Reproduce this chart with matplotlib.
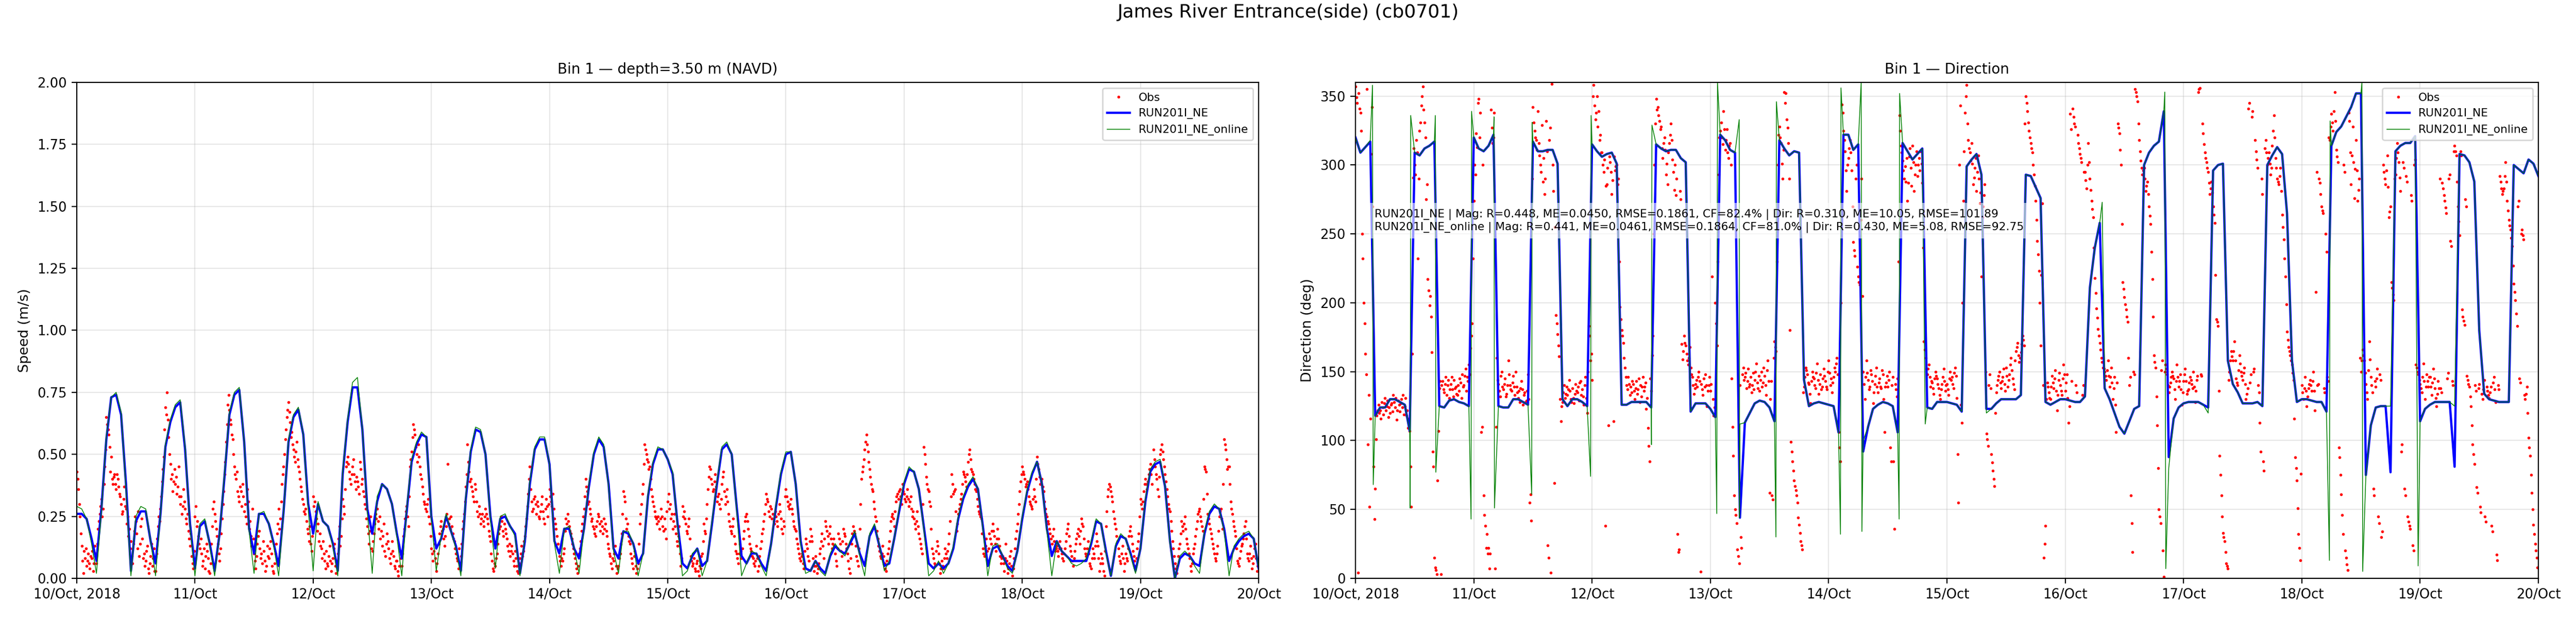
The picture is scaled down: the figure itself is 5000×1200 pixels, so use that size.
import numpy as np
import matplotlib
matplotlib.use("Agg")
from matplotlib import pyplot as plt

# station / run names
station = "James River Entrance(side) (cb0701)"
runs = ["RUN201I_NE", "RUN201I_NE_online"]

# hourly model output, hour 0 = 2018-10-10 00:00
run_spd = [
    0.26, 0.26, 0.24, 0.16, 0.07, 0.28, 0.56, 0.73, 0.74, 0.66,
    0.38, 0.03, 0.23, 0.27, 0.27, 0.15, 0.06, 0.26, 0.53, 0.63,
    0.69, 0.71, 0.52, 0.22, 0.04, 0.21, 0.23, 0.14, 0.03, 0.18,
    0.41, 0.66, 0.74, 0.76, 0.55, 0.20, 0.10, 0.26, 0.26, 0.22,
    0.14, 0.05, 0.27, 0.55, 0.65, 0.68, 0.58, 0.30, 0.18, 0.30,
    0.23, 0.21, 0.14, 0.03, 0.42, 0.63, 0.77, 0.77, 0.60, 0.28,
    0.18, 0.31, 0.38, 0.36, 0.30, 0.18, 0.08, 0.27, 0.47, 0.54,
    0.58, 0.57, 0.25, 0.12, 0.16, 0.25, 0.19, 0.13, 0.03, 0.32,
    0.51, 0.60, 0.59, 0.50, 0.25, 0.12, 0.24, 0.25, 0.21, 0.18,
    0.02, 0.15, 0.38, 0.52, 0.56, 0.56, 0.46, 0.15, 0.10, 0.20,
    0.20, 0.12, 0.08, 0.20, 0.37, 0.50, 0.56, 0.53, 0.38, 0.12,
    0.08, 0.19, 0.18, 0.14, 0.06, 0.10, 0.33, 0.46, 0.52, 0.52,
    0.48, 0.42, 0.22, 0.06, 0.04, 0.09, 0.12, 0.05, 0.07, 0.22,
    0.38, 0.52, 0.54, 0.50, 0.29, 0.09, 0.06, 0.10, 0.10, 0.06,
    0.03, 0.14, 0.29, 0.42, 0.50, 0.51, 0.38, 0.15, 0.04, 0.03,
    0.07, 0.04, 0.02, 0.09, 0.13, 0.11, 0.10, 0.14, 0.18, 0.10,
    0.05, 0.17, 0.21, 0.13, 0.05, 0.06, 0.16, 0.27, 0.38, 0.44,
    0.43, 0.36, 0.21, 0.06, 0.04, 0.06, 0.04, 0.06, 0.12, 0.24,
    0.32, 0.37, 0.40, 0.36, 0.21, 0.05, 0.12, 0.13, 0.09, 0.05,
    0.03, 0.11, 0.24, 0.35, 0.42, 0.47, 0.38, 0.20, 0.09, 0.15,
    0.11, 0.09, 0.07, 0.07, 0.07, 0.07, 0.14, 0.23, 0.22, 0.11,
    0.01, 0.13, 0.17, 0.16, 0.10, 0.03, 0.12, 0.31, 0.43, 0.46,
    0.47, 0.37, 0.15, 0.00, 0.08, 0.10, 0.09, 0.06, 0.05, 0.18,
    0.26, 0.29, 0.28, 0.20, 0.07, 0.12, 0.15, 0.17, 0.18, 0.16,
    0.04]

online_spd = [
    0.29, 0.28, 0.24, 0.14, 0.02, 0.27, 0.57, 0.73, 0.75, 0.67,
    0.36, 0.01, 0.25, 0.29, 0.28, 0.15, 0.01, 0.26, 0.54, 0.64,
    0.70, 0.72, 0.53, 0.21, 0.01, 0.22, 0.24, 0.13, 0.01, 0.18,
    0.42, 0.67, 0.75, 0.77, 0.55, 0.19, 0.02, 0.26, 0.27, 0.22,
    0.13, 0.01, 0.27, 0.56, 0.66, 0.69, 0.58, 0.28, 0.03, 0.31,
    0.23, 0.21, 0.13, 0.01, 0.43, 0.64, 0.79, 0.81, 0.60, 0.27,
    0.02, 0.33, 0.38, 0.36, 0.30, 0.17, 0.01, 0.28, 0.48, 0.55,
    0.59, 0.57, 0.24, 0.03, 0.17, 0.26, 0.19, 0.12, 0.01, 0.33,
    0.52, 0.61, 0.60, 0.50, 0.24, 0.04, 0.25, 0.26, 0.21, 0.17,
    0.01, 0.16, 0.39, 0.53, 0.57, 0.57, 0.46, 0.14, 0.02, 0.20,
    0.21, 0.12, 0.02, 0.20, 0.38, 0.51, 0.57, 0.54, 0.37, 0.11,
    0.02, 0.19, 0.19, 0.14, 0.01, 0.10, 0.34, 0.47, 0.53, 0.52,
    0.48, 0.43, 0.21, 0.01, 0.03, 0.10, 0.12, 0.01, 0.07, 0.23,
    0.39, 0.53, 0.55, 0.50, 0.28, 0.01, 0.06, 0.11, 0.10, 0.05,
    0.01, 0.14, 0.30, 0.43, 0.51, 0.51, 0.38, 0.14, 0.02, 0.03,
    0.07, 0.03, 0.01, 0.10, 0.14, 0.11, 0.09, 0.15, 0.19, 0.09,
    0.01, 0.18, 0.22, 0.13, 0.03, 0.07, 0.16, 0.28, 0.39, 0.45,
    0.43, 0.36, 0.20, 0.01, 0.03, 0.07, 0.02, 0.06, 0.13, 0.25,
    0.33, 0.38, 0.41, 0.36, 0.20, 0.01, 0.13, 0.14, 0.09, 0.04,
    0.02, 0.11, 0.25, 0.36, 0.43, 0.47, 0.38, 0.19, 0.01, 0.15,
    0.11, 0.09, 0.06, 0.05, 0.06, 0.08, 0.15, 0.24, 0.22, 0.10,
    0.01, 0.14, 0.18, 0.16, 0.09, 0.02, 0.12, 0.32, 0.44, 0.47,
    0.48, 0.37, 0.14, 0.00, 0.09, 0.11, 0.09, 0.05, 0.02, 0.19,
    0.27, 0.30, 0.28, 0.19, 0.01, 0.13, 0.16, 0.18, 0.19, 0.16,
    0.04]

run_dir = [
    320, 309, 313, 317, 118, 124, 124, 130, 130, 128,
    126, 107, 309, 307, 312, 314, 317, 125, 124, 129,
    130, 128, 127, 125, 320, 312, 310, 314, 322, 125,
    124, 124, 130, 130, 128, 126, 317, 310, 310, 311,
    311, 301, 130, 125, 130, 130, 128, 125, 315, 310,
    306, 308, 309, 301, 126, 126, 128, 128, 128, 128,
    124, 315, 312, 310, 311, 311, 305, 302, 121, 127,
    127, 127, 123, 117, 322, 318, 311, 309, 44, 113,
    120, 127, 129, 128, 124, 114, 318, 312, 307, 310,
    309, 144, 125, 127, 128, 127, 126, 125, 106, 322,
    322, 311, 315, 92, 110, 123, 126, 128, 127, 125,
    106, 316, 310, 304, 308, 312, 124, 123, 128, 128,
    128, 127, 126, 121, 299, 304, 308, 293, 123, 123,
    127, 130, 130, 130, 130, 133, 293, 292, 284, 276,
    128, 126, 128, 130, 130, 129, 128, 128, 132, 211,
    240, 258, 138, 130, 120, 110, 105, 114, 123, 125,
    300, 309, 314, 317, 339, 88, 116, 124, 127, 128,
    128, 128, 126, 124, 296, 300, 301, 158, 141, 135,
    127, 127, 127, 128, 125, 300, 307, 313, 308, 265,
    158, 128, 130, 130, 129, 128, 128, 121, 314, 324,
    328, 335, 342, 352, 352, 75, 111, 124, 125, 125,
    77, 310, 314, 316, 316, 321, 114, 123, 126, 128,
    128, 128, 128, 81, 308, 307, 302, 288, 180, 134,
    130, 129, 128, 128, 128, 300, 297, 294, 304, 301,
    292]

online_dir = [
    320, 309, 313, 318, 118, 124, 124, 130, 130, 128,
    126, 107, 309, 307, 312, 314, 317, 125, 124, 129,
    130, 128, 127, 125, 320, 312, 310, 314, 322, 125,
    124, 124, 130, 130, 128, 126, 317, 310, 310, 311,
    311, 301, 130, 125, 130, 130, 128, 125, 315, 310,
    306, 308, 309, 301, 126, 126, 128, 128, 128, 128,
    124, 315, 312, 310, 311, 311, 305, 302, 121, 127,
    127, 127, 123, 117, 322, 318, 311, 309, 112, 113,
    120, 127, 129, 128, 124, 114, 318, 312, 307, 310,
    309, 144, 125, 127, 128, 127, 126, 125, 106, 322,
    322, 311, 315, 100, 110, 123, 126, 128, 127, 125,
    106, 316, 310, 304, 308, 312, 124, 123, 128, 128,
    128, 127, 126, 121, 299, 304, 308, 293, 120, 123,
    127, 130, 130, 130, 130, 133, 293, 292, 284, 276,
    128, 126, 128, 130, 130, 129, 128, 128, 132, 211,
    240, 258, 138, 130, 120, 110, 105, 114, 123, 125,
    300, 309, 314, 317, 339, 80, 116, 124, 127, 128,
    128, 128, 126, 120, 296, 300, 301, 158, 141, 135,
    127, 127, 127, 128, 125, 300, 307, 313, 308, 265,
    158, 128, 130, 130, 129, 128, 128, 121, 314, 324,
    328, 335, 342, 352, 352, 75, 111, 124, 125, 125,
    125, 310, 314, 316, 316, 321, 115, 123, 126, 128,
    128, 128, 128, 125, 308, 307, 302, 288, 180, 134,
    130, 129, 128, 128, 128, 300, 297, 294, 304, 301,
    292]

# short over/undershoots of the online run at the flow reversals
online_spike_hours = [3.45, 3.6, 11.1, 11.2, 16.2, 16.3, 23.45, 23.55, 28.1, 28.2,
                      35.75, 35.85, 47.7, 47.8, 60.05, 60.15, 73.3, 73.45, 77.85, 77.92,
                      85.3, 85.4, 98.4, 98.5, 102.6, 102.75, 110.3, 110.4, 115.6, 151.5,
                      164.2, 164.4, 197.6, 197.75, 204.2, 204.35, 215.6]
online_spike_dir = [358, 68, 51, 336, 336, 77, 43, 339, 335, 51,
                    61, 331, 74, 336, 97, 329, 47, 360, 333, 44,
                    30, 346, 32, 356, 360, 34, 43, 352, 112, 273,
                    353, 7, 13, 332, 360, 5, 9]

# ADCP bin 1 observations, every 10 min from 2018-10-10 00:00 (2 h per row)
obs_spd = [
    0.43, 0.40, 0.36, 0.30, 0.25, 0.18, 0.13, 0.07, 0.02, 0.11, 0.08, 0.12,
    0.05, 0.07, 0.10, 0.06, 0.04, 0.09, 0.08, 0.11, 0.03, 0.06, 0.13, 0.10,
    0.06, 0.14, 0.20, 0.23, 0.26, 0.29, 0.32, 0.25, 0.28, 0.38, 0.45, 0.52,
    0.65, 0.62, 0.60, 0.58, 0.53, 0.43, 0.49, 0.40, 0.38, 0.41, 0.42, 0.38,
    0.36, 0.42, 0.40, 0.37, 0.34, 0.33, 0.30, 0.26, 0.27, 0.32, 0.37, 0.29,
    0.28, 0.22, 0.25, 0.17, 0.20, 0.12, 0.15, 0.09, 0.06, 0.14, 0.19, 0.25,
    0.23, 0.18, 0.12, 0.27, 0.09, 0.14, 0.21, 0.24, 0.16, 0.08, 0.10, 0.05,
    0.07, 0.11, 0.13, 0.04, 0.02, 0.06, 0.09, 0.14, 0.05, 0.08, 0.12, 0.03,
    0.03, 0.10, 0.16, 0.21, 0.25, 0.23, 0.28, 0.33, 0.39, 0.44, 0.49, 0.60,
    0.69, 0.66, 0.75, 0.64, 0.57, 0.50, 0.46, 0.40, 0.42, 0.35, 0.39, 0.44,
    0.38, 0.41, 0.34, 0.37, 0.45, 0.33, 0.30, 0.33, 0.26, 0.29, 0.36, 0.31,
    0.28, 0.24, 0.22, 0.26, 0.19, 0.16, 0.13, 0.18, 0.09, 0.06, 0.04, 0.11,
    0.25, 0.29, 0.21, 0.23, 0.17, 0.14, 0.12, 0.16, 0.10, 0.05, 0.07, 0.12,
    0.04, 0.09, 0.14, 0.11, 0.08, 0.03, 0.02, 0.06, 0.14, 0.21, 0.28, 0.31,
    0.26, 0.23, 0.20, 0.17, 0.14, 0.10, 0.07, 0.12, 0.18, 0.24, 0.30, 0.35,
    0.42, 0.47, 0.55, 0.62, 0.70, 0.74, 0.68, 0.64, 0.62, 0.58, 0.56, 0.50,
    0.45, 0.42, 0.40, 0.43, 0.35, 0.33, 0.31, 0.37, 0.35, 0.29, 0.38, 0.33,
    0.27, 0.30, 0.25, 0.22, 0.36, 0.31, 0.20, 0.23, 0.17, 0.13, 0.28, 0.16,
    0.10, 0.07, 0.04, 0.09, 0.14, 0.17, 0.19, 0.12, 0.08, 0.10, 0.06, 0.15,
    0.11, 0.07, 0.03, 0.05, 0.13, 0.09, 0.08, 0.12, 0.15, 0.10, 0.05, 0.03,
    0.02, 0.06, 0.10, 0.14, 0.18, 0.22, 0.28, 0.20, 0.24, 0.31, 0.38, 0.42,
    0.45, 0.50, 0.56, 0.60, 0.65, 0.68, 0.71, 0.67, 0.63, 0.57, 0.59, 0.54,
    0.52, 0.49, 0.47, 0.51, 0.55, 0.48, 0.45, 0.43, 0.40, 0.37, 0.35, 0.32,
    0.30, 0.27, 0.26, 0.28, 0.23, 0.20, 0.18, 0.15, 0.21, 0.14, 0.11, 0.17,
    0.33, 0.29, 0.31, 0.27, 0.24, 0.19, 0.22, 0.15, 0.18, 0.13, 0.12, 0.08,
    0.15, 0.10, 0.07, 0.04, 0.11, 0.06, 0.05, 0.09, 0.13, 0.07, 0.03, 0.06,
    0.08, 0.12, 0.14, 0.05, 0.02, 0.07, 0.10, 0.16, 0.21, 0.13, 0.17, 0.24,
    0.32, 0.29, 0.26, 0.36, 0.45, 0.47, 0.49, 0.46, 0.43, 0.40, 0.38, 0.42,
    0.45, 0.48, 0.42, 0.39, 0.36, 0.41, 0.39, 0.37, 0.34, 0.47, 0.44, 0.38,
    0.40, 0.35, 0.33, 0.30, 0.28, 0.24, 0.21, 0.18, 0.14, 0.19, 0.25, 0.12,
    0.11, 0.15, 0.18, 0.22, 0.26, 0.24, 0.28, 0.23, 0.20, 0.25, 0.16, 0.19,
    0.13, 0.17, 0.22, 0.11, 0.09, 0.14, 0.18, 0.15, 0.12, 0.08, 0.06, 0.10,
    0.15, 0.11, 0.09, 0.05, 0.04, 0.07, 0.07, 0.03, 0.01, 0.05, 0.11, 0.08,
    0.05, 0.10, 0.17, 0.20, 0.24, 0.27, 0.29, 0.25, 0.21, 0.33, 0.45, 0.48,
    0.51, 0.57, 0.62, 0.60, 0.58, 0.53, 0.50, 0.47, 0.54, 0.49, 0.45, 0.42,
    0.40, 0.37, 0.34, 0.31, 0.30, 0.28, 0.27, 0.30, 0.32, 0.25, 0.22, 0.17,
    0.12, 0.10, 0.07, 0.11, 0.14, 0.08, 0.03, 0.06, 0.10, 0.14, 0.18, 0.21,
    0.23, 0.19, 0.20, 0.16, 0.13, 0.17, 0.21, 0.26, 0.46, 0.22, 0.24, 0.20,
    0.25, 0.21, 0.18, 0.16, 0.15, 0.12, 0.10, 0.08, 0.07, 0.04, 0.12, 0.06,
    0.09, 0.14, 0.20, 0.23, 0.26, 0.31, 0.37, 0.42, 0.54, 0.47, 0.43, 0.39,
    0.40, 0.37, 0.35, 0.33, 0.31, 0.38, 0.36, 0.31, 0.27, 0.25, 0.29, 0.26,
    0.22, 0.24, 0.26, 0.23, 0.21, 0.25, 0.28, 0.26, 0.24, 0.22, 0.19, 0.17,
    0.15, 0.10, 0.07, 0.04, 0.03, 0.06, 0.05, 0.08, 0.10, 0.14, 0.18, 0.20,
    0.21, 0.25, 0.23, 0.19, 0.17, 0.22, 0.20, 0.18, 0.16, 0.13, 0.11, 0.14,
    0.09, 0.11, 0.13, 0.10, 0.07, 0.05, 0.11, 0.08, 0.05, 0.03, 0.02, 0.06,
    0.08, 0.10, 0.13, 0.09, 0.11, 0.15, 0.17, 0.21, 0.24, 0.29, 0.34, 0.40,
    0.45, 0.36, 0.31, 0.27, 0.28, 0.32, 0.33, 0.30, 0.26, 0.31, 0.29, 0.25,
    0.24, 0.27, 0.30, 0.33, 0.27, 0.24, 0.22, 0.28, 0.32, 0.29, 0.25, 0.30,
    0.36, 0.33, 0.31, 0.29, 0.34, 0.28, 0.24, 0.22, 0.20, 0.17, 0.14, 0.11,
    0.09, 0.07, 0.05, 0.08, 0.07, 0.10, 0.12, 0.19, 0.24, 0.22, 0.26, 0.23,
    0.21, 0.19, 0.18, 0.16, 0.14, 0.12, 0.10, 0.08, 0.06, 0.04, 0.02, 0.05,
    0.10, 0.12, 0.15, 0.19, 0.22, 0.25, 0.28, 0.33, 0.40, 0.37, 0.35, 0.30,
    0.31, 0.28, 0.26, 0.23, 0.24, 0.21, 0.20, 0.18, 0.17, 0.21, 0.23, 0.26,
    0.25, 0.22, 0.19, 0.23, 0.21, 0.18, 0.24, 0.20, 0.22, 0.19, 0.17, 0.14,
    0.12, 0.10, 0.09, 0.06, 0.04, 0.08, 0.07, 0.10, 0.13, 0.05, 0.02, 0.04,
    0.05, 0.08, 0.10, 0.14, 0.18, 0.26, 0.35, 0.33, 0.31, 0.24, 0.20, 0.22,
    0.17, 0.15, 0.14, 0.10, 0.08, 0.06, 0.04, 0.09, 0.11, 0.05, 0.02, 0.04,
    0.06, 0.14, 0.22, 0.26, 0.30, 0.34, 0.38, 0.46, 0.54, 0.52, 0.50, 0.48,
    0.47, 0.44, 0.45, 0.40, 0.36, 0.33, 0.31, 0.29, 0.27, 0.25, 0.24, 0.22,
    0.25, 0.23, 0.20, 0.24, 0.28, 0.25, 0.21, 0.19, 0.24, 0.20, 0.16, 0.27,
    0.31, 0.34, 0.28, 0.30, 0.24, 0.26, 0.20, 0.23, 0.26, 0.21, 0.18, 0.15,
    0.13, 0.17, 0.21, 0.10, 0.05, 0.08, 0.29, 0.25, 0.27, 0.24, 0.22, 0.19,
    0.18, 0.21, 0.24, 0.16, 0.09, 0.07, 0.05, 0.06, 0.08, 0.04, 0.03, 0.06,
    0.07, 0.03, 0.01, 0.05, 0.04, 0.09, 0.10, 0.15, 0.22, 0.19, 0.18, 0.24,
    0.30, 0.36, 0.41, 0.45, 0.44, 0.40, 0.38, 0.35, 0.36, 0.39, 0.42, 0.37,
    0.31, 0.33, 0.34, 0.30, 0.28, 0.32, 0.38, 0.41, 0.43, 0.35, 0.30, 0.33,
    0.36, 0.31, 0.26, 0.23, 0.21, 0.19, 0.18, 0.21, 0.24, 0.17, 0.14, 0.11,
    0.10, 0.08, 0.06, 0.10, 0.14, 0.11, 0.08, 0.12, 0.16, 0.19, 0.23, 0.25,
    0.26, 0.23, 0.20, 0.17, 0.14, 0.12, 0.11, 0.09, 0.08, 0.06, 0.05, 0.07,
    0.13, 0.08, 0.03, 0.05, 0.09, 0.12, 0.15, 0.18, 0.20, 0.23, 0.26, 0.30,
    0.34, 0.32, 0.31, 0.27, 0.25, 0.29, 0.28, 0.24, 0.26, 0.23, 0.22, 0.27,
    0.25, 0.23, 0.21, 0.26, 0.30, 0.27, 0.24, 0.20, 0.18, 0.23, 0.21, 0.33,
    0.36, 0.33, 0.31, 0.29, 0.28, 0.30, 0.32, 0.28, 0.26, 0.23, 0.21, 0.20,
    0.19, 0.16, 0.14, 0.12, 0.10, 0.08, 0.07, 0.09, 0.10, 0.06, 0.04, 0.11,
    0.16, 0.14, 0.12, 0.09, 0.07, 0.15, 0.20, 0.17, 0.15, 0.08, 0.03, 0.05,
    0.09, 0.05, 0.02, 0.04, 0.06, 0.10, 0.12, 0.15, 0.18, 0.13, 0.08, 0.16,
    0.23, 0.21, 0.19, 0.17, 0.14, 0.18, 0.21, 0.16, 0.12, 0.14, 0.16, 0.13,
    0.10, 0.07, 0.05, 0.12, 0.18, 0.16, 0.14, 0.11, 0.09, 0.15, 0.20, 0.18,
    0.17, 0.14, 0.12, 0.10, 0.07, 0.04, 0.02, 0.08, 0.14, 0.18, 0.21, 0.19,
    0.18, 0.13, 0.09, 0.07, 0.05, 0.12, 0.20, 0.30, 0.40, 0.43, 0.45, 0.48,
    0.52, 0.55, 0.58, 0.54, 0.51, 0.47, 0.44, 0.41, 0.38, 0.36, 0.35, 0.31,
    0.28, 0.25, 0.23, 0.19, 0.16, 0.13, 0.11, 0.09, 0.08, 0.10, 0.13, 0.09,
    0.06, 0.04, 0.03, 0.07, 0.10, 0.12, 0.15, 0.19, 0.23, 0.25, 0.26, 0.24,
    0.21, 0.27, 0.31, 0.33, 0.34, 0.32, 0.35, 0.36, 0.33, 0.30, 0.38, 0.35,
    0.34, 0.32, 0.31, 0.33, 0.36, 0.32, 0.29, 0.31, 0.33, 0.28, 0.25, 0.27,
    0.24, 0.22, 0.20, 0.23, 0.27, 0.21, 0.18, 0.16, 0.14, 0.12, 0.10, 0.30,
    0.53, 0.50, 0.46, 0.41, 0.38, 0.36, 0.35, 0.31, 0.29, 0.20, 0.12, 0.10,
    0.08, 0.06, 0.05, 0.11, 0.15, 0.13, 0.10, 0.06, 0.02, 0.04, 0.07, 0.05,
    0.04, 0.08, 0.12, 0.10, 0.08, 0.11, 0.14, 0.18, 0.23, 0.33, 0.42, 0.38,
    0.34, 0.35, 0.36, 0.27, 0.19, 0.22, 0.26, 0.28, 0.30, 0.32, 0.34, 0.38,
    0.43, 0.42, 0.41, 0.39, 0.37, 0.42, 0.47, 0.50, 0.52, 0.48, 0.44, 0.43,
    0.42, 0.40, 0.38, 0.36, 0.35, 0.32, 0.29, 0.27, 0.26, 0.25, 0.24, 0.18,
    0.12, 0.10, 0.09, 0.13, 0.16, 0.11, 0.07, 0.12, 0.18, 0.16, 0.14, 0.19,
    0.22, 0.19, 0.17, 0.14, 0.11, 0.16, 0.20, 0.16, 0.13, 0.09, 0.06, 0.08,
    0.09, 0.06, 0.03, 0.08, 0.14, 0.07, 0.02, 0.04, 0.06, 0.09, 0.11, 0.05,
    0.01, 0.04, 0.08, 0.12, 0.16, 0.19, 0.22, 0.26, 0.30, 0.35, 0.39, 0.42,
    0.45, 0.43, 0.42, 0.40, 0.37, 0.38, 0.39, 0.36, 0.33, 0.31, 0.30, 0.29,
    0.28, 0.32, 0.36, 0.33, 0.31, 0.40, 0.49, 0.46, 0.44, 0.41, 0.38, 0.39,
    0.40, 0.37, 0.35, 0.31, 0.28, 0.26, 0.25, 0.23, 0.22, 0.20, 0.18, 0.16,
    0.14, 0.17, 0.20, 0.15, 0.11, 0.12, 0.13, 0.11, 0.09, 0.12, 0.15, 0.12,
    0.10, 0.08, 0.07, 0.10, 0.12, 0.15, 0.18, 0.20, 0.22, 0.17, 0.13, 0.11,
    0.09, 0.07, 0.05, 0.08, 0.11, 0.14, 0.16, 0.18, 0.20, 0.17, 0.14, 0.19,
    0.24, 0.22, 0.21, 0.16, 0.12, 0.10, 0.09, 0.12, 0.15, 0.10, 0.06, 0.05,
    0.04, 0.08, 0.12, 0.10, 0.08, 0.13, 0.18, 0.15, 0.13, 0.08, 0.03, 0.06,
    0.10, 0.08, 0.06, 0.03, 0.01, 0.11, 0.21, 0.27, 0.33, 0.36, 0.38, 0.37,
    0.35, 0.33, 0.31, 0.27, 0.24, 0.22, 0.20, 0.17, 0.15, 0.12, 0.09, 0.07,
    0.06, 0.10, 0.13, 0.08, 0.03, 0.06, 0.10, 0.08, 0.07, 0.12, 0.17, 0.19,
    0.21, 0.17, 0.14, 0.11, 0.09, 0.07, 0.05, 0.08, 0.12, 0.15, 0.18, 0.25,
    0.32, 0.30, 0.28, 0.31, 0.35, 0.38, 0.40, 0.38, 0.36, 0.39, 0.42, 0.44,
    0.46, 0.42, 0.38, 0.45, 0.52, 0.48, 0.45, 0.42, 0.40, 0.36, 0.33, 0.41,
    0.50, 0.52, 0.54, 0.51, 0.48, 0.45, 0.42, 0.39, 0.36, 0.33, 0.30, 0.28,
    0.27, 0.23, 0.19, 0.15, 0.12, 0.09, 0.06, 0.04, 0.02, 0.05, 0.09, 0.12,
    0.14, 0.18, 0.23, 0.21, 0.19, 0.22, 0.25, 0.20, 0.16, 0.14, 0.12, 0.10,
    0.08, 0.05, 0.03, 0.06, 0.10, 0.12, 0.14, 0.17, 0.20, 0.23, 0.26, 0.27,
    0.28, 0.25, 0.23, 0.21, 0.19, 0.32, 0.45, 0.44, 0.43, 0.34, 0.26, 0.24,
    0.22, 0.20, 0.18, 0.16, 0.14, 0.12, 0.10, 0.08, 0.07, 0.10, 0.13, 0.19,
    0.25, 0.27, 0.28, 0.24, 0.20, 0.38, 0.56, 0.54, 0.52, 0.48, 0.44, 0.45,
    0.45, 0.38, 0.31, 0.28, 0.26, 0.23, 0.21, 0.19, 0.17, 0.12, 0.07, 0.06,
    0.05, 0.08, 0.11, 0.13, 0.14, 0.16, 0.18, 0.21, 0.23, 0.16, 0.10, 0.08,
    0.07, 0.10, 0.13, 0.08, 0.04, 0.06, 0.09, 0.12, 0.14, 0.08, 0.03, 0.05]

obs_dir = [
    357, 349, 345, 4, 352, 341, 338, 325, 250, 232, 200, 185,
    163, 148, 355, 97, 133, 52, 116, 308, 342, 270, 81, 43,
    65, 101, 118, 122, 126, 120, 122, 116, 128, 124, 119, 127,
    131, 122, 125, 129, 117, 124, 120, 126, 127, 121, 133, 128,
    124, 131, 115, 122, 129, 126, 121, 127, 130, 124, 133, 119,
    125, 131, 118, 122, 109, 116, 107, 81, 52, 163, 291, 312,
    300, 293, 318, 309, 232, 290, 325, 331, 343, 350, 357, 340,
    331, 320, 275, 286, 217, 209, 198, 205, 190, 164, 92, 81,
    15, 8, 6, 3, 71, 107, 138, 143, 3, 140, 143, 137,
    135, 141, 146, 133, 140, 144, 131, 137, 141, 146, 137, 132,
    144, 138, 139, 134, 133, 140, 136, 145, 142, 131, 148, 139,
    140, 147, 152, 136, 146, 143, 155, 148, 167, 176, 185, 232,
    274, 300, 293, 323, 313, 345, 348, 320, 338, 106, 110, 300,
    60, 46, 38, 22, 32, 18, 22, 7, 18, 340, 327, 316,
    320, 338, 7, 110, 160, 144, 141, 136, 132, 147, 150, 139,
    137, 141, 145, 132, 134, 140, 158, 148, 140, 137, 136, 142,
    147, 139, 133, 150, 139, 135, 131, 136, 128, 138, 143, 137,
    126, 133, 135, 128, 129, 136, 148, 130, 55, 61, 42, 290,
    342, 331, 325, 320, 318, 311, 339, 316, 307, 300, 295, 329,
    288, 305, 279, 290, 332, 310, 24, 15, 318, 327, 4, 359,
    300, 281, 69, 255, 191, 185, 177, 169, 161, 130, 114, 125,
    128, 135, 140, 131, 134, 139, 133, 137, 144, 136, 130, 128,
    138, 131, 127, 134, 141, 136, 135, 139, 129, 142, 143, 133,
    137, 132, 126, 140, 146, 131, 120, 150, 183, 176, 158, 163,
    144, 350, 358, 343, 333, 338, 350, 328, 339, 318, 322, 309,
    309, 300, 295, 304, 38, 285, 286, 298, 111, 306, 302, 295,
    279, 289, 114, 306, 296, 299, 300, 286, 290, 230, 197, 188,
    180, 176, 171, 160, 153, 146, 140, 137, 146, 141, 133, 139,
    135, 143, 141, 136, 130, 138, 143, 134, 137, 145, 128, 140,
    132, 139, 146, 136, 139, 142, 123, 131, 109, 96, 85, 145,
    136, 162, 176, 250, 300, 330, 348, 340, 342, 336, 332, 326,
    328, 312, 305, 316, 320, 311, 293, 301, 286, 309, 316, 322,
    330, 318, 304, 295, 282, 300, 278, 290, 32, 19, 21, 281,
    275, 170, 159, 165, 176, 171, 169, 163, 158, 155, 160, 168,
    153, 148, 146, 140, 134, 138, 141, 144, 139, 146, 150, 143,
    5, 141, 137, 133, 145, 139, 148, 140, 125, 136, 140, 146,
    136, 141, 219, 130, 118, 124, 200, 185, 169, 230, 293, 320,
    325, 331, 320, 315, 339, 326, 311, 318, 326, 309, 305, 314,
    316, 300, 145, 110, 89, 60, 50, 46, 40, 21, 16, 11,
    140, 30, 22, 148, 153, 144, 146, 149, 138, 143, 152, 139,
    141, 146, 135, 140, 149, 137, 144, 150, 156, 142, 138, 147,
    136, 144, 150, 139, 142, 153, 147, 140, 133, 151, 158, 143,
    62, 130, 143, 60, 57, 160, 172, 168, 165, 230, 300, 322,
    328, 320, 316, 301, 290, 311, 353, 345, 352, 333, 327, 316,
    290, 180, 99, 92, 85, 78, 71, 67, 64, 60, 55, 44,
    39, 33, 27, 24, 21, 135, 139, 146, 153, 151, 148, 142,
    141, 134, 127, 143, 150, 146, 145, 140, 138, 149, 156, 144,
    134, 141, 148, 137, 139, 145, 152, 147, 143, 139, 137, 150,
    158, 149, 140, 145, 135, 142, 146, 153, 150, 156, 160, 148,
    106, 95, 85, 200, 344, 338, 325, 318, 310, 296, 281, 300,
    305, 312, 318, 309, 296, 270, 244, 238, 234, 290, 300, 226,
    219, 215, 213, 260, 290, 205, 150, 141, 130, 146, 158, 149,
    144, 137, 139, 151, 148, 143, 127, 135, 141, 147, 153, 139,
    135, 142, 145, 139, 138, 151, 148, 130, 106, 139, 142, 147,
    139, 144, 150, 95, 85, 140, 146, 85, 36, 141, 137, 132,
    145, 230, 336, 325, 314, 309, 303, 296, 290, 299, 288, 305,
    274, 287, 306, 312, 298, 285, 314, 302, 281, 293, 300, 310,
    292, 300, 305, 296, 310, 301, 287, 240, 172, 166, 160, 152,
    148, 152, 155, 146, 139, 143, 142, 138, 134, 145, 150, 147,
    145, 141, 138, 133, 130, 137, 141, 146, 152, 143, 136, 140,
    141, 137, 133, 145, 150, 144, 146, 141, 138, 149, 153, 147,
    131, 90, 55, 300, 343, 126, 113, 200, 274, 310, 338, 350,
    358, 330, 318, 312, 309, 303, 316, 301, 286, 291, 298, 305,
    281, 295, 307, 290, 272, 280, 219, 262, 270, 278, 286, 150,
    105, 101, 96, 140, 148, 138, 90, 84, 78, 72, 67, 120,
    135, 140, 144, 147, 150, 142, 138, 143, 146, 152, 141, 136,
    153, 147, 139, 144, 148, 155, 160, 151, 145, 141, 137, 158,
    165, 168, 171, 162, 157, 160, 164, 170, 176, 173, 169, 330,
    350, 345, 339, 331, 325, 320, 316, 312, 309, 300, 293, 285,
    274, 260, 245, 235, 223, 200, 169, 220, 272, 140, 15, 25,
    38, 130, 142, 139, 135, 131, 130, 139, 147, 142, 138, 145,
    151, 136, 122, 133, 144, 149, 140, 136, 133, 145, 155, 148,
    136, 142, 148, 131, 113, 125, 337, 326, 143, 341, 335, 330,
    328, 140, 135, 322, 316, 312, 308, 305, 302, 133, 140, 295,
    295, 289, 283, 300, 316, 302, 290, 282, 274, 268, 262, 240,
    218, 207, 196, 189, 181, 176, 171, 166, 160, 157, 153, 152,
    150, 147, 144, 151, 158, 147, 139, 146, 153, 142, 130, 138,
    146, 126, 106, 142, 330, 327, 323, 311, 300, 257, 215, 210,
    204, 199, 195, 190, 186, 160, 140, 146, 60, 40, 19, 150,
    148, 355, 353, 350, 346, 330, 318, 310, 303, 298, 293, 296,
    298, 290, 281, 285, 288, 279, 270, 263, 257, 237, 217, 190,
    162, 157, 153, 132, 111, 80, 50, 45, 40, 151, 158, 20,
    1, 150, 155, 152, 148, 140, 135, 139, 142, 146, 150, 147,
    145, 137, 130, 143, 155, 146, 139, 143, 148, 137, 126, 135,
    143, 148, 152, 143, 134, 136, 137, 142, 146, 144, 141, 138,
    150, 139, 128, 136, 144, 147, 353, 355, 356, 148, 147, 330,
    323, 315, 309, 305, 302, 298, 295, 287, 279, 283, 288, 280,
    270, 264, 258, 220, 188, 186, 183, 136, 89, 75, 60, 45,
    33, 30, 27, 19, 11, 9, 7, 144, 150, 158, 165, 161,
    158, 165, 172, 158, 145, 142, 140, 151, 162, 156, 150, 147,
    144, 149, 153, 141, 130, 134, 138, 341, 345, 142, 148, 335,
    339, 150, 152, 318, 310, 304, 298, 140, 135, 113, 92, 290,
    279, 85, 78, 312, 318, 309, 300, 305, 309, 301, 293, 298,
    314, 325, 336, 320, 305, 298, 290, 288, 286, 292, 298, 281,
    264, 255, 246, 232, 219, 199, 179, 173, 168, 165, 162, 158,
    155, 149, 144, 116, 88, 80, 71, 51, 32, 22, 13, 76,
    140, 135, 130, 138, 146, 136, 125, 132, 138, 141, 144, 140,
    136, 143, 150, 136, 122, 208, 295, 140, 141, 290, 287, 279,
    270, 267, 265, 138, 135, 250, 237, 146, 143, 320, 318, 328,
    337, 331, 325, 339, 353, 332, 311, 306, 302, 95, 88, 75,
    61, 46, 32, 300, 295, 20, 15, 10, 6, 338, 332, 309,
    286, 307, 328, 302, 276, 297, 318, 296, 274, 282, 290, 160,
    150, 158, 166, 162, 158, 149, 141, 135, 130, 151, 172, 159,
    146, 140, 135, 65, 60, 143, 139, 145, 152, 45, 40, 148,
    144, 30, 34, 300, 295, 290, 286, 296, 307, 284, 262, 266,
    270, 215, 211, 206, 202, 290, 293, 305, 316, 309, 302, 291,
    281, 92, 97, 302, 298, 65, 60, 292, 288, 45, 41, 38,
    36, 278, 274, 24, 20, 300, 304, 155, 153, 150, 148, 144,
    141, 138, 135, 146, 156, 143, 130, 139, 148, 143, 139, 146,
    146, 139, 133, 142, 152, 145, 138, 131, 125, 134, 143, 138,
    290, 138, 135, 287, 283, 278, 274, 269, 265, 145, 149, 290,
    293, 245, 241, 143, 140, 310, 314, 310, 307, 288, 270, 259,
    249, 310, 307, 195, 190, 187, 184, 275, 270, 147, 144, 141,
    139, 132, 125, 111, 97, 90, 83, 140, 136, 66, 62, 138,
    141, 52, 48, 134, 130, 137, 144, 45, 41, 139, 136, 133,
    131, 135, 139, 38, 34, 142, 146, 137, 128, 17, 13, 140,
    137, 292, 288, 283, 279, 281, 283, 292, 302, 288, 274, 267,
    260, 256, 253, 247, 241, 227, 214, 208, 202, 192, 183, 270,
    274, 145, 142, 250, 253, 249, 246, 133, 130, 134, 139, 120,
    102, 95, 89, 75, 62, 50, 39, 32, 25, 20, 15, 8]

day_labels = ["10/Oct, 2018", "11/Oct", "12/Oct", "13/Oct", "14/Oct", "15/Oct",
              "16/Oct", "17/Oct", "18/Oct", "19/Oct", "20/Oct"]

# skill scores: R, ME, RMSE, CF for magnitude, R, ME, RMSE for direction
mag_stats = [(0.448, 0.0450, 0.1861, 82.4), (0.441, 0.0461, 0.1864, 81.0)]
dir_stats = [(0.310, 10.05, 101.89), (0.430, 5.08, 92.75)]

t0 = np.datetime64("2018-10-10T00:00")


def to_time(hours):
    return t0 + np.round(np.asarray(hours, dtype=float) * 60).astype("timedelta64[m]")


model_t = to_time(np.arange(len(run_spd)))
obs_t = to_time(np.arange(len(obs_spd)) / 6.0)
obs_dir_t = to_time(np.arange(len(obs_dir)) / 6.0)

# online direction: hourly values plus the reversal spikes, in time order
sp_h = np.concatenate([np.arange(len(online_dir)), online_spike_hours])
sp_v = np.concatenate([online_dir, online_spike_dir])
order = np.argsort(sp_h, kind="stable")
online_dir_t = to_time(sp_h[order])
online_dir_v = sp_v[order]

day_ticks = t0 + np.arange(len(day_labels)).astype("timedelta64[D]")

fig = plt.figure(figsize=(25, 6), dpi=200)
ax1 = fig.add_axes([0.0298, 0.0642, 0.4588, 0.8025])
ax2 = fig.add_axes([0.5262, 0.0642, 0.4592, 0.8025])

leg_fs = 7.85
tick_fs = 9.3
obs_ms = 2.0

## speed panel
ax1.plot(obs_t, obs_spd, ls="none", marker=".", color="red", ms=obs_ms, label="Obs")
ax1.plot(model_t, run_spd, color="blue", lw=1.6, label=runs[0])
ax1.plot(model_t, online_spd, color="green", lw=0.55, label=runs[1])
ax1.set_ylim(0, 2)
ax1.set_yticks(np.arange(0, 2.01, 0.25))
ax1.set_ylabel("Speed (m/s)", fontsize=9.7)
ax1.set_title("Bin 1 \u2014 depth=3.50 m (NAVD)", fontsize=10)

## direction panel
ax2.plot(obs_dir_t, obs_dir, ls="none", marker=".", color="red", ms=obs_ms, label="Obs")
ax2.plot(model_t, run_dir, color="blue", lw=1.6, label=runs[0])
ax2.plot(online_dir_t, online_dir_v, color="green", lw=0.55, label=runs[1])
ax2.set_ylim(0, 360)
ax2.set_yticks(np.arange(0, 351, 50))
ax2.set_ylabel("Direction (deg)", fontsize=9.7)
ax2.set_title("Bin 1 \u2014 Direction", fontsize=10)

lines = []
for name, m, d in zip(runs, mag_stats, dir_stats):
    lines.append(f"{name} | Mag: R={m[0]:.3f}, ME={m[1]:.4f}, RMSE={m[2]:.4f}, CF={m[3]:.1f}% "
                 f"| Dir: R={d[0]:.3f}, ME={d[1]:.2f}, RMSE={d[2]:.2f}")
ax2.text(0.016, 0.745, "\n".join(lines), transform=ax2.transAxes, fontsize=leg_fs,
         va="top", ha="left",
         bbox=dict(facecolor="white", alpha=0.6, edgecolor="none"))

for ax in (ax1, ax2):
    ax.set_xlim(day_ticks[0], day_ticks[-1])
    ax.set_xticks(day_ticks)
    ax.set_xticklabels(day_labels)
    ax.tick_params(labelsize=tick_fs)
    ax.grid(True, alpha=0.3)
    ax.legend(loc="upper right", fontsize=leg_fs)

fig.suptitle(station, fontsize=13, y=0.994, va="top")

fig.savefig("out.png", dpi=200)
